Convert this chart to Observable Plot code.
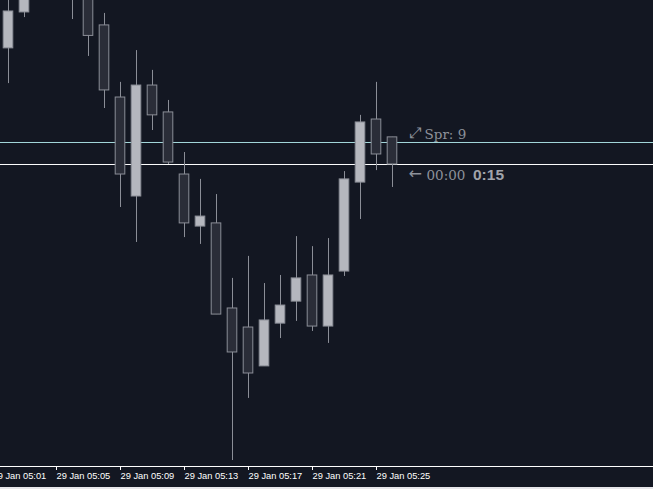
<!DOCTYPE html>
<html>
<head>
<meta charset="utf-8">
<script src="https://cdn.jsdelivr.net/npm/d3@7"></script>
<script src="https://cdn.jsdelivr.net/npm/@observablehq/plot@0.6"></script>
<style>
  html, body { margin: 0; padding: 0; background: #e6e6ea; }
  #chart svg { display: block; }
</style>
</head>
<body>
<div id="chart"></div>
<script>
// M1 candles, 29 Jan (chart time)
const times = ["05:02","05:03","05:06","05:07","05:08","05:09","05:10","05:11","05:12","05:13","05:14","05:15","05:16","05:17","05:18","05:19","05:20","05:21","05:22","05:23","05:24","05:25","05:26"];
const open  = [1.043595,1.043742,1.043914,1.043824,1.043689,1.043394,1.042989,1.043443,1.043333,1.043079,1.042866,1.042879,1.042531,1.042453,1.042294,1.042469,1.042559,1.042666,1.042457,1.042682,1.043046,1.043304,1.043231];
const high  = [1.043811,1.043873,1.043934,1.043852,1.043738,1.043456,1.043586,1.043505,1.043382,1.043169,1.043059,1.042997,1.042654,1.042744,1.042633,1.042666,1.042825,1.042784,1.042817,1.043091,1.043321,1.043456,1.043231];
const low   = [1.043451,1.043721,1.043713,1.043562,1.043349,1.042944,1.042801,1.043259,1.043120,1.042821,1.042793,1.042506,1.041909,1.042163,1.042294,1.042408,1.042478,1.042437,1.042388,1.042662,1.042895,1.043095,1.043026];
const close = [1.043746,1.043832,1.043803,1.043646,1.043423,1.043079,1.043443,1.043321,1.043128,1.042879,1.042907,1.042506,1.042351,1.042265,1.042482,1.042543,1.042654,1.042457,1.042666,1.043059,1.043292,1.043161,1.043120];

const tickTimes = ["05:01","05:05","05:09","05:13","05:17","05:21","05:25"];
const bid = 1.04312;
const ask = 1.04321;
const spreadArrow = "\u2922";
const spreadLabel = "Spr: 9";
const timerArrow = "\u2190";
const timerLabel = "00:00";
const countdownLabel = "0:15";
const labelTime = "05:27";
const xDomain = ["2025-01-29T05:01:30Z", "2025-01-29T05:42:18.750Z"];
const yDomain = [1.0418845, 1.0437909];

const day = "2025-01-29T";
const toDate = t => new Date(day + t + ":00Z");
const candles = times.map((t, i) => ({
  date: toDate(t), open: open[i], high: high[i], low: low[i], close: close[i]
}));
const ticks = tickTimes.map(toDate);
const halfBody = 18000; // ms

const border = "#8b8e97";
const labelGray = "#8d919a";
const label = (txt, level, opts) => Plot.text([txt], {
  x: () => toDate(labelTime), y: () => level, text: d => d,
  textAnchor: "start", lineAnchor: "bottom", fill: labelGray, ...opts
});

const chart = Plot.plot({
  width: 653,
  height: 487,
  marginTop: 0,
  marginRight: 0,
  marginBottom: 21,
  marginLeft: 0,
  style: {background: "#131722", color: "#ffffff", fontFamily: "Liberation Sans", fontSize: "9.3px"},
  x: {type: "utc", domain: xDomain.map(s => new Date(s))},
  y: {domain: yDomain, axis: null},
  marks: [
    Plot.ruleY([ask], {stroke: "#a4d9dc", strokeWidth: 1}),
    Plot.ruleY([bid], {stroke: "#ffffff", strokeWidth: 1}),
    Plot.ruleX(candles, {x: "date", y1: "low", y2: "high", stroke: border, strokeWidth: 1}),
    Plot.rect(candles, {
      x1: d => new Date(+d.date - halfBody),
      x2: d => new Date(+d.date + halfBody),
      y1: "open", y2: "close",
      fill: d => d.close > d.open ? "#b5b7be" : "#2a2d38",
      stroke: border, strokeWidth: 1
    }),
    Plot.ruleY([yDomain[0]], {stroke: "#ffffff"}),
    Plot.axisX({
      ticks, tickFormat: d3.utcFormat("%d %b %H:%M"), tickSize: 4, tickPadding: 2,
      textAnchor: "start", stroke: "#ffffff", fill: "#ffffff", label: null
    }),
    label(spreadArrow, ask, {dy: -4, fontFamily: "DejaVu Sans", fontSize: 15}),
    label(spreadLabel, ask, {dy: -3, dx: 16, fontFamily: "DejaVu Serif", fontSize: 13.5}),
    label(timerArrow, bid, {dy: 15, fontFamily: "DejaVu Sans", fontSize: 16}),
    label(timerLabel, bid, {dy: 16, dx: 18, fontFamily: "DejaVu Serif", fontSize: 13.5}),
    label(countdownLabel, bid, {dy: 16, dx: 64.5, fill: "#a0a3aa", fontFamily: "Liberation Sans", fontWeight: "bold", fontSize: 15.5})
  ]
});
document.getElementById("chart").appendChild(chart);
</script>
</body>
</html>
